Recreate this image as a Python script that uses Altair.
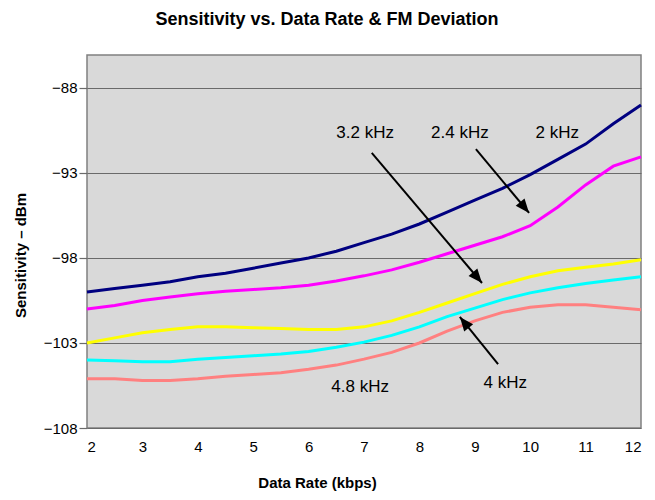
import math
import altair as alt
import pandas as pd

# ---- data ----
rate = [2, 2.5, 3, 3.5, 4, 4.5, 5, 5.5, 6, 6.5, 7, 7.5, 8, 8.5, 9, 9.5, 10, 10.5, 11, 11.5, 12]

dev_2_0 = [-100.0, -99.8, -99.6, -99.4, -99.1, -98.9, -98.6, -98.3, -98.0, -97.6, -97.1,
           -96.6, -96.0, -95.3, -94.6, -93.9, -93.1, -92.2, -91.3, -90.1, -89.0]
dev_2_4 = [-101.0, -100.8, -100.5, -100.3, -100.1, -99.95, -99.85, -99.75, -99.6, -99.35, -99.05,
           -98.7, -98.25, -97.75, -97.25, -96.75, -96.1, -95.0, -93.7, -92.6, -92.05]
dev_3_2 = [-103.0, -102.7, -102.4, -102.2, -102.05, -102.05, -102.1, -102.15, -102.2, -102.2, -102.05,
           -101.7, -101.2, -100.65, -100.1, -99.55, -99.1, -98.75, -98.55, -98.35, -98.1]
dev_4_0 = [-104.0, -104.05, -104.1, -104.1, -103.95, -103.85, -103.75, -103.65, -103.5, -103.25, -102.95,
           -102.55, -102.05, -101.45, -100.95, -100.45, -100.05, -99.75, -99.5, -99.3, -99.1]
dev_4_8 = [-105.1, -105.1, -105.2, -105.2, -105.1, -104.95, -104.85, -104.75, -104.55, -104.3, -103.95,
           -103.55, -103.0, -102.3, -101.7, -101.2, -100.9, -100.75, -100.75, -100.9, -101.05]

series_names = ["2 kHz", "2.4 kHz", "3.2 kHz", "4 kHz", "4.8 kHz"]
series_colors = ["#000080", "#FF00FF", "#FFFF00", "#00FFFF", "#FF8080"]

y_ticks = [-108, -103, -98, -93, -88]
x_ticks = [2, 3, 4, 5, 6, 7, 8, 9, 10, 11, 12]

label_text = ["3.2 kHz", "2.4 kHz", "2 kHz", "4.8 kHz", "4 kHz"]
label_x = [7.02, 8.73, 10.49, 6.93, 9.55]
label_y = [-90.65, -90.65, -90.65, -105.57, -105.35]

arrow_x1 = [7.14, 9.02, 9.42]
arrow_y1 = [-91.82, -91.59, -104.24]
arrow_x2 = [9.13, 9.98, 8.73]
arrow_y2 = [-99.47, -95.35, -101.47]

# ---- layout ----
W, H = 554, 373
X_DOM = [2, 12]
Y_DOM = [-108, -86.06]
FONT = "Liberation Sans"

rows = []
for name, vals in zip(series_names, [dev_2_0, dev_2_4, dev_3_2, dev_4_0, dev_4_8]):
    for i, (r, v) in enumerate(zip(rate, vals)):
        rows.append({"rate": r, "sens": v, "series": name, "i": i})
df = pd.DataFrame(rows)

kx = W / (X_DOM[1] - X_DOM[0])
ky = H / (Y_DOM[1] - Y_DOM[0])
arrows = []
for x1, y1, x2, y2 in zip(arrow_x1, arrow_y1, arrow_x2, arrow_y2):
    dx = (x2 - x1) * kx
    dy = -(y2 - y1) * ky
    ang = math.degrees(math.atan2(dx, -dy)) % 360
    arrows.append({"x1": x1, "y1": y1, "x2": x2, "y2": y2, "ang": ang})
adf = pd.DataFrame(arrows)
ldf = pd.DataFrame({"text": label_text, "x": label_x, "y": label_y})

xs = alt.Scale(domain=X_DOM, nice=False, zero=False)
ys = alt.Scale(domain=Y_DOM, nice=False, zero=False)

x_axis = alt.Axis(values=x_ticks, grid=False, ticks=False, domain=False,
                  labelFont=FONT, labelFontSize=15, labelColor="#000", labelPadding=11,
                  title="Data Rate (kbps)", titleFont=FONT, titleFontSize=15,
                  titleFontWeight="bold", titleColor="#000",
                  titleX=230, titleY=54, titleBaseline="middle", titleAlign="center")
y_axis = alt.Axis(values=y_ticks, grid=True, gridColor="#6a6a6a", gridWidth=1.2,
                  ticks=True, tickSize=8, tickColor="#6a6a6a", tickWidth=1.2,
                  domain=False, labelFont=FONT, labelFontSize=15, labelColor="#000",
                  labelPadding=2,
                  title="Sensitivity \u2013 dBm", titleFont=FONT, titleFontSize=15,
                  titleFontWeight="bold", titleColor="#000",
                  titleX=-67, titleY=200, titleAngle=270, titleBaseline="middle",
                  titleAlign="center")

lines = alt.Chart(df).mark_line(strokeWidth=3).encode(
    x=alt.X("rate:Q", scale=xs, axis=x_axis),
    y=alt.Y("sens:Q", scale=ys, axis=y_axis),
    color=alt.Color("series:N", scale=alt.Scale(domain=series_names, range=series_colors), legend=None),
    order="i:Q",
)

arrow_lines = alt.Chart(adf).mark_rule(color="black", strokeWidth=2).encode(
    x=alt.X("x1:Q", scale=xs), y=alt.Y("y1:Q", scale=ys),
    x2="x2:Q", y2="y2:Q",
)

heads = alt.Chart(adf).mark_point(
    shape="M0,0 L-0.45,1.1 L0.45,1.1 Z", filled=True, color="black", opacity=1, size=650,
).encode(
    x=alt.X("x2:Q", scale=xs), y=alt.Y("y2:Q", scale=ys),
    angle=alt.Angle("ang:Q", scale=None),
)

labels = alt.Chart(ldf).mark_text(font=FONT, fontSize=17, color="black",
                                   align="center", baseline="middle").encode(
    x=alt.X("x:Q", scale=xs), y=alt.Y("y:Q", scale=ys), text="text:N",
)

chart = alt.layer(lines, arrow_lines, heads, labels).properties(
    width=W, height=H,
    title=alt.TitleParams("Sensitivity vs. Data Rate & FM Deviation", font=FONT, fontSize=18,
                          fontWeight="bold", color="#000", anchor="middle", dx=-37,
                          offset=26),
    autosize=alt.AutoSizeParams(type="none"),
    padding={"left": 79, "top": 47, "right": 6, "bottom": 64},
).configure_view(fill="#D9D9D9", stroke="#808080", strokeWidth=1.5)

chart.save("out.html", embed_options={"renderer": "svg", "actions": False})
